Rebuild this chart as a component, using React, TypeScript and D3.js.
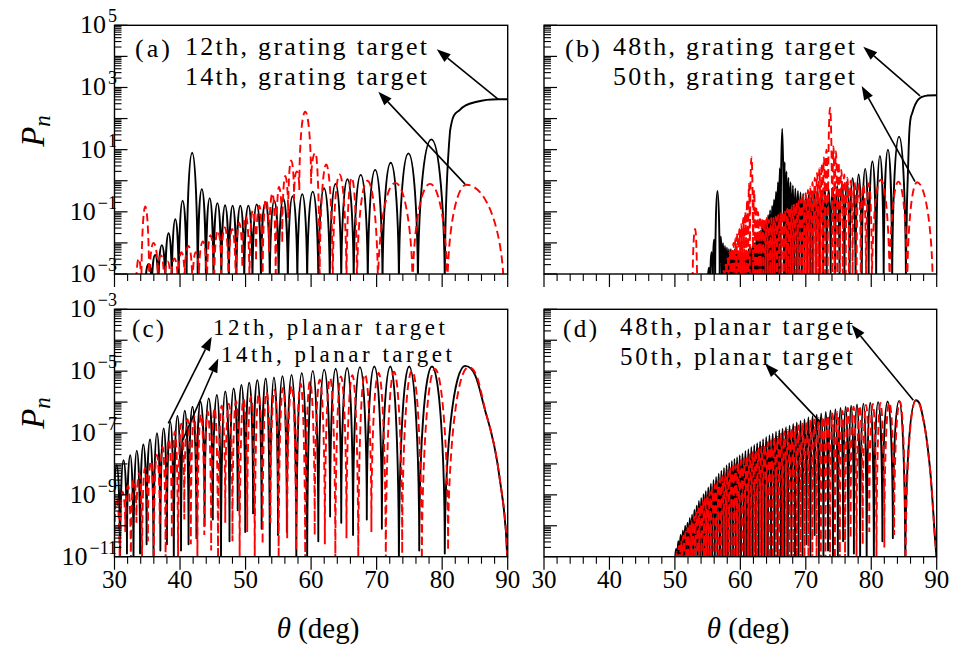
import React from "react";
import * as d3 from "d3";

type V = [number, number]; // [theta (deg), log10(Pn)]

// ---------------- axes ----------------
const THETA_MAJOR = [30, 40, 50, 60, 70, 80, 90];
const TOP_LABEL_EXPS = [-3, -1, 1, 3, 5];
const BOTTOM_LABEL_EXPS = [-11, -9, -7, -5, -3];

// ---------------- (a) 12th / 14th, grating target ----------------
const a12Nulls = [34.7, 35.7, 36.7, 37.75, 38.75, 39.8, 41.0, 42.7, 43.95, 45.1, 46.3, 47.45, 48.6, 49.8, 51.05, 52.35, 53.7, 55.05, 56.45, 57.9, 59.4, 61.1, 62.85, 64.6, 66.5, 68.65, 70.9, 73.4, 76.3, 80.4];
const a12Peaks = [-2.68, -2.39, -2.07, -1.69, -1.24, -0.64, 0.9, -0.27, -0.56, -0.72, -0.79, -0.8, -0.8, -0.8, -0.76, -0.7, -0.64, -0.57, -0.5, -0.43, -0.35, -0.24, -0.1, 0.05, 0.19, 0.35, 0.58, 0.88, 1.33];
const a12Tail: V[] = [[81.2, 1.6], [82.7, 2.28], [85.3, 2.54], [88.5, 2.62], [90, 2.62]];

const a14Nulls = [33.3, 34.1, 35.3, 36.6, 37.6, 38.6, 39.7, 40.7, 41.9, 42.9, 44.1, 45.2, 46.3, 47.4, 48.5, 49.5, 50.6, 51.6, 52.6, 53.6, 54.6, 55.6, 56.5, 57.4, 58.2, 60.0, 61.3, 63.3, 65.4, 67.0, 70.2, 75.5, 80.8];
const a14Peaks = [-2.5, -0.83, -2.0, -2.4, -2.6, -2.5, -2.3, -2.1, -2.3, -1.95, -1.75, -1.6, -1.5, -1.55, -1.35, -1.15, -0.95, -0.8, -0.6, -0.4, -0.2, 0.15, 0.65, 0.3, 2.22, 0.9, 0.52, 0.2, 0.1, 0.0, -0.07, -0.1];
const a14Depths = [-3.6, -3.6, -3.6, -3.0, -3.6, -3.6, -3.6, -3.2, -3.6, -3.1, -3.6, -3.6, -3.0, -3.6, -3.6, -2.8, -3.6, -2.6, -3.6, -2.3, -3.6, -2.0, -1.2, -0.6, -0.3, -0.1, -3.6, -3.6, -3.6, -3.6, -3.6, -3.6, -3.6];
const a14Tail: V[] = [[83.7, -0.13], [89.4, -3.6]];

// ---------------- (b) 48th / 50th, grating target ----------------
const b48Nulls = [55.0, 55.4, 55.8, 56.15, 56.85, 57.2, 57.5, 57.8, 58.1, 58.4, 58.7, 59.0, 59.3, 59.6, 59.9, 60.2, 60.5, 60.8, 61.1, 61.4, 61.7, 62.0, 62.3, 62.6, 62.9, 63.2, 63.5, 63.8, 64.1, 64.4, 64.7, 65.0, 65.3, 65.6, 65.9, 66.15, 66.65, 66.9, 67.2, 67.5, 67.85, 68.2, 68.6, 69.0, 69.4, 69.8, 70.2, 70.65, 71.1, 71.6, 72.1, 72.65, 73.2, 73.8, 74.45, 75.15, 75.9, 76.7, 77.6, 78.55, 79.6, 80.75, 81.9, 83.2, 85.3];
const b48Peaks = [-2.8, -2.3, -1.9, -0.33, -1.8, -2.0, -2.1, -2.15, -2.2, -2.2, -2.25, -2.2, -2.25, -2.3, -2.25, -2.3, -2.3, -2.25, -2.2, -2.15, -2.1, -2.0, -1.9, -1.75, -1.6, -1.5, -1.4, -1.25, -1.1, -0.95, -0.8, -0.6, -0.35, -0.05, 0.4, 1.67, 0.6, 0.3, 0.1, -0.05, -0.15, -0.25, -0.33, -0.38, -0.42, -0.45, -0.45, -0.42, -0.4, -0.36, -0.33, -0.3, -0.27, -0.22, -0.17, -0.1, -0.03, 0.08, 0.2, 0.38, 0.62, 0.8, 1.0, 1.42];
const b48Tail: V[] = [[85.8, 1.5], [86.3, 2.2], [87.2, 2.62], [88.5, 2.74], [90, 2.75]];

const b50Nulls = [52.7, 53.5, 57.3, 57.6, 57.9, 58.2, 58.5, 58.8, 59.1, 59.4, 59.7, 60.0, 60.3, 60.6, 60.9, 61.2, 61.45, 61.95, 62.25, 62.55, 62.85, 63.15, 63.5, 63.85, 64.2, 64.55, 64.9, 65.25, 65.6, 65.95, 66.3, 66.65, 67.0, 67.35, 67.7, 68.05, 68.4, 68.75, 69.1, 69.45, 69.8, 70.15, 70.5, 70.85, 71.2, 71.55, 71.9, 72.25, 72.6, 72.95, 73.35, 74.05, 74.4, 74.8, 75.2, 75.65, 76.1, 76.6, 77.15, 77.75, 78.4, 79.2, 80.1, 82.8, 85.5];
const b50Peaks = [-1.55, -6, -2.9, -2.7, -2.5, -2.3, -2.2, -2.0, -1.85, -1.7, -1.55, -1.4, -1.2, -1.0, -0.6, -0.1, 0.76, -0.3, -0.8, -1.0, -1.15, -1.2, -1.25, -1.2, -1.25, -1.2, -1.2, -1.15, -1.1, -1.05, -1.0, -0.95, -0.9, -0.85, -0.8, -0.75, -0.7, -0.65, -0.6, -0.5, -0.4, -0.3, -0.2, -0.05, 0.1, 0.25, 0.4, 0.55, 0.75, 1.0, 2.35, 1.1, 0.95, 0.6, 0.35, 0.2, 0.1, 0.0, -0.05, -0.1, -0.12, -0.08, 0.03, -0.03];
const b50Tail: V[] = [[87.0, -0.05], [89.4, -3.6]];

// ---------------- (c) 12th / 14th, planar target ----------------
const c12Nulls = [29.8, 30.85, 31.9, 32.9, 33.9, 34.9, 35.95, 37.0, 38.0, 39.05, 40.15, 41.3, 42.5, 43.75, 45.0, 46.25, 47.55, 48.8, 49.95, 51.15, 52.45, 53.7, 54.95, 56.3, 57.75, 59.4, 61.1, 62.9, 64.6, 66.4, 68.5, 70.8, 73.4, 76.5, 80.4];
const c12Peaks = [-8.04, -7.88, -7.72, -7.57, -7.37, -7.21, -7.01, -6.85, -6.64, -6.45, -6.28, -6.15, -5.99, -5.88, -5.77, -5.66, -5.56, -5.45, -5.37, -5.29, -5.24, -5.2, -5.16, -5.12, -5.06, -4.99, -4.95, -4.92, -4.9, -4.87, -4.85, -4.85, -4.85, -4.85];
const c12Depths = [-11.5, -11.5, -10.9, -11.5, -10.9, -10.6, -11.5, -10.8, -10.6, -11.5, -10.8, -10.6, -10.4, -10.0, -9.8, -11.5, -10.5, -9.5, -10.2, -9.6, -10.1, -11.5, -10.3, -10.2, -11.5, -11.5, -10.5, -9.7, -9.9, -10.3, -9.8, -10.1, -11.5, -10.8, -10.9];
const c12Tail: V[] = [[83.5, -4.83], [86.8, -6.45], [88.8, -8.5], [89.95, -11.5]];

const c14Nulls = [29.9, 30.8, 31.65, 32.5, 33.35, 34.2, 35.1, 36.0, 36.9, 37.8, 38.75, 39.7, 40.65, 41.65, 42.65, 43.7, 44.75, 45.8, 46.9, 48.0, 49.1, 50.25, 51.4, 52.6, 53.8, 55.05, 56.35, 57.7, 59.1, 60.55, 62.1, 63.7, 65.4, 67.2, 69.2, 71.4, 73.9, 76.9, 80.9];
const c14Peaks = [-9.1, -8.9, -8.7, -8.5, -8.3, -8.12, -7.9, -7.7, -7.45, -7.2, -6.95, -6.7, -6.55, -6.45, -6.4, -6.3, -6.2, -6.12, -6.05, -5.97, -5.9, -5.82, -5.75, -5.68, -5.6, -5.54, -5.47, -5.4, -5.34, -5.28, -5.22, -5.17, -5.13, -5.1, -5.06, -5.02, -4.98, -4.93];
const c14Depths = [-11.5, -11.5, -10.2, -11.5, -9.9, -11.5, -10.5, -11.5, -10.0, -11.5, -10.4, -11.5, -9.8, -10.6, -11.5, -10.3, -10.8, -11.5, -9.9, -10.5, -11.5, -10.2, -11.5, -10.6, -9.9, -11.5, -10.4, -10.8, -11.5, -10.3, -10.6, -11.5, -10.4, -11.5, -10.2, -11.5, -10.9, -11.5, -10.8];
const c14Tail: V[] = [[84.0, -4.87], [86.8, -6.45], [88.8, -8.5], [89.95, -11.5]];

// ---------------- (d) 48th / 50th, planar target ----------------
const d48Nulls = [50.0, 50.35, 50.7, 51.05, 51.4, 51.75, 52.1, 52.45, 52.8, 53.15, 53.5, 53.85, 54.2, 54.55, 54.9, 55.3, 55.7, 56.1, 56.5, 56.9, 57.3, 57.7, 58.1, 58.5, 58.9, 59.3, 59.7, 60.1, 60.55, 61.0, 61.45, 61.9, 62.35, 62.8, 63.25, 63.7, 64.2, 64.7, 65.2, 65.7, 66.2, 66.7, 67.25, 67.8, 68.35, 68.9, 69.5, 70.1, 70.7, 71.35, 72.0, 72.7, 73.4, 74.15, 74.9, 75.7, 76.5, 77.35, 78.3, 79.3, 80.4, 81.7, 83.3, 85.2];
const d48Peaks = [-10.75, -10.5, -10.3, -10.15, -10.0, -9.9, -9.75, -9.63, -9.48, -9.35, -9.2, -9.1, -8.98, -8.88, -8.76, -8.64, -8.52, -8.42, -8.32, -8.22, -8.13, -8.04, -7.97, -7.9, -7.84, -7.78, -7.72, -7.66, -7.58, -7.52, -7.45, -7.39, -7.33, -7.27, -7.2, -7.13, -7.07, -7.02, -6.96, -6.91, -6.86, -6.81, -6.76, -6.71, -6.66, -6.61, -6.56, -6.5, -6.46, -6.41, -6.37, -6.32, -6.27, -6.23, -6.19, -6.15, -6.12, -6.08, -6.05, -6.02, -6.0, -5.98, -5.96];
const d48Shallow: V[] = [[70.1, -10.6], [71.35, -10.3], [73.4, -10.8], [75.7, -10.5], [77.35, -10.9], [81.7, -10.5], [83.3, -10.4]];
const d48Tail: V[] = [[86.8, -5.94], [88.0, -6.6], [89.0, -8.2], [89.7, -10.3], [90, -11.5]];

const d50Nulls = [50.15, 50.45, 50.8, 51.1, 51.45, 51.8, 52.1, 52.45, 52.75, 53.1, 53.45, 53.75, 54.1, 54.45, 54.8, 55.15, 55.5, 55.9, 56.3, 56.65, 57.05, 57.45, 57.85, 58.25, 58.65, 59.05, 59.45, 59.85, 60.3, 60.75, 61.2, 61.65, 62.1, 62.55, 63.0, 63.45, 63.95, 64.45, 64.95, 65.45, 65.95, 66.45, 67.0, 67.55, 68.1, 68.65, 69.2, 69.8, 70.4, 71.0, 71.65, 72.3, 73.0, 73.7, 74.45, 75.2, 76.0, 76.85, 77.75, 78.7, 79.7, 80.8, 82.0, 83.5, 85.25];
const d50Peaks = [-10.85, -10.65, -10.48, -10.32, -10.19, -10.08, -9.96, -9.83, -9.7, -9.56, -9.43, -9.32, -9.2, -9.1, -9.0, -8.89, -8.78, -8.67, -8.58, -8.48, -8.39, -8.3, -8.22, -8.15, -8.08, -8.02, -7.96, -7.89, -7.82, -7.75, -7.69, -7.62, -7.56, -7.5, -7.44, -7.37, -7.3, -7.24, -7.19, -7.13, -7.0, -6.95, -6.9, -6.85, -6.8, -6.75, -6.7, -6.65, -6.6, -6.56, -6.51, -6.47, -6.42, -6.37, -6.33, -6.29, -6.19, -6.15, -6.12, -6.09, -6.06, -6.03, -6.01, -5.98];
const d50Shallow: V[] = [[76.85, -10.4], [78.7, -10.6], [79.7, -10.2], [82.0, -10.7], [83.5, -10.3]];
const d50Tail: V[] = [[86.8, -5.96], [88.0, -6.62], [89.0, -8.22], [89.7, -10.3], [90, -11.5]];

// ---------------- build vertex lists (null, peak, null, ...) ----------------
function lobes(nulls: number[], peaks: number[], floor: number, depths: number[] | null, shallow: V[] | null, tail: V[]): V[] {
  const sh = new Map<number, number>((shallow || []).map(([t, v]) => [t, v] as [number, number]));
  const out: V[] = [];
  nulls.forEach((t, i) => {
    const dv = depths ? depths[i] : sh.has(t) ? (sh.get(t) as number) : floor;
    out.push([t, dv]);
    if (i < peaks.length) out.push([(t + nulls[i + 1]) / 2, peaks[i]]);
  });
  return out.concat(tail);
}

// Curve: vertical tangent at minima (nulls), horizontal tangent at maxima
function lobeCurve(context: any) {
  let pts: number[][] = [];
  const clamp = (v: number, a: number, b: number) => Math.max(Math.min(a, b), Math.min(Math.max(a, b), v));
  return {
    areaStart() {},
    areaEnd() {},
    lineStart() { pts = []; },
    point(x: number, y: number) { pts.push([+x, +y]); },
    lineEnd() {
      const n = pts.length;
      if (!n) return;
      context.moveTo(pts[0][0], pts[0][1]);
      const kind: string[] = [];
      const slope: number[] = [];
      for (let i = 0; i < n; i++) {
        const p = pts[i], a = pts[i - 1], b = pts[i + 1];
        const hiA = a ? p[1] <= a[1] : true;
        const hiB = b ? p[1] <= b[1] : true;
        const loA = a ? p[1] >= a[1] : true;
        const loB = b ? p[1] >= b[1] : true;
        if (hiA && hiB) { kind.push("h"); slope.push(0); }
        else if (loA && loB) { kind.push("v"); slope.push(0); }
        else { kind.push("s"); slope.push((b[1] - a[1]) / (b[0] - a[0])); }
      }
      const K = 0.55;
      for (let i = 0; i < n - 1; i++) {
        const p = pts[i], q = pts[i + 1];
        const dx = q[0] - p[0], dy = q[1] - p[1];
        let c1: number[], c2: number[];
        if (kind[i] === "h") c1 = [p[0] + K * dx, p[1]];
        else if (kind[i] === "v") c1 = [p[0], p[1] + K * dy];
        else c1 = [p[0] + dx / 3, clamp(p[1] + (slope[i] * dx) / 3, p[1], q[1])];
        if (kind[i + 1] === "h") c2 = [q[0] - K * dx, q[1]];
        else if (kind[i + 1] === "v") c2 = [q[0], q[1] - K * dy];
        else c2 = [q[0] - dx / 3, clamp(q[1] - (slope[i + 1] * dx) / 3, p[1], q[1])];
        context.bezierCurveTo(c1[0], c1[1], c2[0], c2[1], q[0], q[1]);
      }
    },
  };
}

const FONT = "Liberation Serif, Times New Roman, serif";

interface TextLine { text: string; x: number; y: number; w: number; size: number }
interface PanelCfg {
  id: string; x0: number; x1: number; y0: number; y1: number; lo: number; hi: number;
  black: V[]; red: V[]; yLabels: number[] | null; xLabels: boolean;
  texts: TextLine[]; arrows: { from: V; to: V }[];
}

const panels: PanelCfg[] = [
  {
    id: "a", x0: 114.5, x1: 507.7, y0: 25.3, y1: 274, lo: -3, hi: 5,
    black: lobes(a12Nulls, a12Peaks, -3.6, null, null, a12Tail),
    red: lobes(a14Nulls, a14Peaks, -3.6, a14Depths, null, a14Tail),
    yLabels: TOP_LABEL_EXPS, xLabels: false,
    texts: [
      { text: "(a)", x: 135, y: 57, w: 35, size: 26 },
      { text: "12th, grating target", x: 185, y: 55, w: 242, size: 26 },
      { text: "14th, grating target", x: 185, y: 85, w: 242, size: 26 },
    ],
    arrows: [{ from: [88.57, 2.62], to: [79.17, 4.23] }, { from: [83.49, -0.11], to: [70.26, 2.865] }],
  },
  {
    id: "b", x0: 544, x1: 936.7, y0: 25.3, y1: 274, lo: -3, hi: 5,
    black: lobes(b48Nulls, b48Peaks, -3.6, null, null, b48Tail),
    red: lobes(b50Nulls, b50Peaks, -3.6, null, null, b50Tail),
    yLabels: null, xLabels: false,
    texts: [
      { text: "(b)", x: 565, y: 57, w: 35, size: 26 },
      { text: "48th, grating target", x: 613, y: 55, w: 242, size: 26 },
      { text: "50th, grating target", x: 613, y: 85, w: 242, size: 26 },
    ],
    arrows: [{ from: [87.45, 2.73], to: [78.79, 4.31] }, { from: [86.68, -0.03], to: [78.54, 3.05] }],
  },
  {
    id: "c", x0: 114.5, x1: 507.7, y0: 309.3, y1: 556.7, lo: -11, hi: -3,
    black: lobes(c12Nulls, c12Peaks, -11.5, c12Depths, null, c12Tail),
    red: lobes(c14Nulls, c14Peaks, -11.5, c14Depths, null, c14Tail),
    yLabels: BOTTOM_LABEL_EXPS, xLabels: true,
    texts: [
      { text: "(c)", x: 132, y: 337, w: 32, size: 25 },
      { text: "12th, planar target", x: 213, y: 335, w: 232, size: 23 },
      { text: "14th, planar target", x: 221, y: 362, w: 231, size: 23 },
    ],
    arrows: [{ from: [38.21, -6.69], to: [44.83, -3.89] }, { from: [40.41, -7.23], to: [45.84, -4.59] }],
  },
  {
    id: "d", x0: 544, x1: 936.7, y0: 309.3, y1: 556.7, lo: -11, hi: -3,
    black: lobes(d48Nulls, d48Peaks, -11.5, null, d48Shallow, d48Tail),
    red: lobes(d50Nulls, d50Peaks, -11.5, null, d50Shallow, d50Tail),
    yLabels: null, xLabels: true,
    texts: [
      { text: "(d)", x: 563, y: 337, w: 34, size: 25 },
      { text: "48th, planar target", x: 620, y: 335, w: 233, size: 25 },
      { text: "50th, planar target", x: 620, y: 365, w: 233, size: 25 },
    ],
    arrows: [{ from: [86.43, -5.94], to: [77.01, -3.51] }, { from: [72.17, -6.64], to: [63.77, -4.75] }],
  },
];

function Panel({ cfg }: { cfg: PanelCfg }) {
  const x = d3.scaleLinear().domain([30, 90]).range([cfg.x0, cfg.x1]);
  const y = d3.scaleLog().domain([Math.pow(10, cfg.lo), Math.pow(10, cfg.hi)]).range([cfg.y1, cfg.y0]);
  const line = d3.line<V>().x((d) => x(d[0])).y((d) => y(Math.pow(10, d[1]))).curve(lobeCurve as any);
  const clipId = `clip-${cfg.id}`;
  const majorY = d3.range(cfg.lo, cfg.hi + 1);
  const minorY: number[] = [];
  for (let e = cfg.lo; e < cfg.hi; e++) for (let m = 2; m <= 9; m++) minorY.push(m * Math.pow(10, e));
  const minorX = d3.range(32, 90, 2).filter((t) => t % 10 !== 0);
  const W = cfg.x1 - cfg.x0, H = cfg.y1 - cfg.y0;

  return (
    <g>
      <defs>
        <clipPath id={clipId}>
          <rect x={cfg.x0} y={cfg.y0} width={W} height={H} />
        </clipPath>
      </defs>
      <g clipPath={`url(#${clipId})`}>
        <path d={line(cfg.black) || ""} fill="none" stroke="#000" strokeWidth={1.9} strokeLinejoin="round" />
        <path d={line(cfg.red) || ""} fill="none" stroke="#ff0000" strokeWidth={1.9} strokeDasharray="8 4.5" />
      </g>
      <rect x={cfg.x0} y={cfg.y0} width={W} height={H} fill="none" stroke="#000" strokeWidth={1.4} />
      {majorY.map((e) => (
        <line key={`my${e}`} x1={cfg.x0} x2={cfg.x0 + 13} y1={y(Math.pow(10, e))} y2={y(Math.pow(10, e))} stroke="#000" strokeWidth={1.2} />
      ))}
      {minorY.map((v, i) => (
        <line key={`ny${i}`} x1={cfg.x0} x2={cfg.x0 + 7} y1={y(v)} y2={y(v)} stroke="#000" strokeWidth={1.1} />
      ))}
      {THETA_MAJOR.map((t) => (
        <line key={`mx${t}`} x1={x(t)} x2={x(t)} y1={cfg.y1} y2={cfg.y1 + 13} stroke="#000" strokeWidth={1.2} />
      ))}
      {minorX.map((t) => (
        <line key={`nx${t}`} x1={x(t)} x2={x(t)} y1={cfg.y1} y2={cfg.y1 + 7} stroke="#000" strokeWidth={1.1} />
      ))}
      {cfg.yLabels &&
        cfg.yLabels.map((e) => (
          <text key={`yl${e}`} x={117} y={y(Math.pow(10, e)) + 8} textAnchor="end" fontFamily={FONT} fontSize={26} fill="#000">
            10
            <tspan dx={2} dy={-11} fontSize={18}>{e < 0 ? `\u2212${-e}` : `${e}`}</tspan>
          </text>
        ))}
      {cfg.xLabels &&
        THETA_MAJOR.map((t) => (
          <text key={`xl${t}`} x={x(t)} y={cfg.y1 + 31} textAnchor="middle" fontFamily={FONT} fontSize={25} fill="#000">
            {t}
          </text>
        ))}
      {cfg.texts.map((t, i) => (
        <text key={`t${i}`} x={t.x} y={t.y} fontFamily={FONT} fontSize={t.size} textLength={t.w} lengthAdjust="spacing" fill="#000">
          {t.text}
        </text>
      ))}
      {cfg.arrows.map((a, i) => {
        const p0 = [x(a.from[0]), y(Math.pow(10, a.from[1]))];
        const p1 = [x(a.to[0]), y(Math.pow(10, a.to[1]))];
        const dx = p1[0] - p0[0], dy = p1[1] - p0[1];
        const len = Math.hypot(dx, dy);
        const ux = dx / len, uy = dy / len;
        const L = 14, Wd = 5;
        const bx = p1[0] - ux * L, by = p1[1] - uy * L;
        const pts = `${p1[0]},${p1[1]} ${bx - uy * Wd},${by + ux * Wd} ${bx + uy * Wd},${by - ux * Wd}`;
        return (
          <g key={`ar${i}`}>
            <line x1={p0[0]} y1={p0[1]} x2={bx} y2={by} stroke="#000" strokeWidth={1.6} />
            <polygon points={pts} fill="#000" />
          </g>
        );
      })}
    </g>
  );
}

export default function App() {
  return (
    <svg width={959} height={650} viewBox="0 0 959 650" style={{ position: "absolute", left: 0, top: 0, background: "#fff" }}>
      <rect x={0} y={0} width={959} height={650} fill="#fff" />
      {panels.map((p) => (
        <Panel key={p.id} cfg={p} />
      ))}
      <text transform="translate(44,131) rotate(-90)" textAnchor="middle" fontFamily={FONT} fontSize={33} fontStyle="italic" fontWeight="normal" fill="#000">
        P<tspan fontSize={23} dy={6}>n</tspan>
      </text>
      <text transform="translate(44,413) rotate(-90)" textAnchor="middle" fontFamily={FONT} fontSize={33} fontStyle="italic" fontWeight="normal" fill="#000">
        P<tspan fontSize={23} dy={6}>n</tspan>
      </text>
      <text x={318} y={638} textAnchor="middle" fontFamily={FONT} fontSize={29} fill="#000">
        <tspan fontStyle="italic">θ</tspan> (deg)
      </text>
      <text x={748} y={638} textAnchor="middle" fontFamily={FONT} fontSize={29} fill="#000">
        <tspan fontStyle="italic">θ</tspan> (deg)
      </text>
    </svg>
  );
}
